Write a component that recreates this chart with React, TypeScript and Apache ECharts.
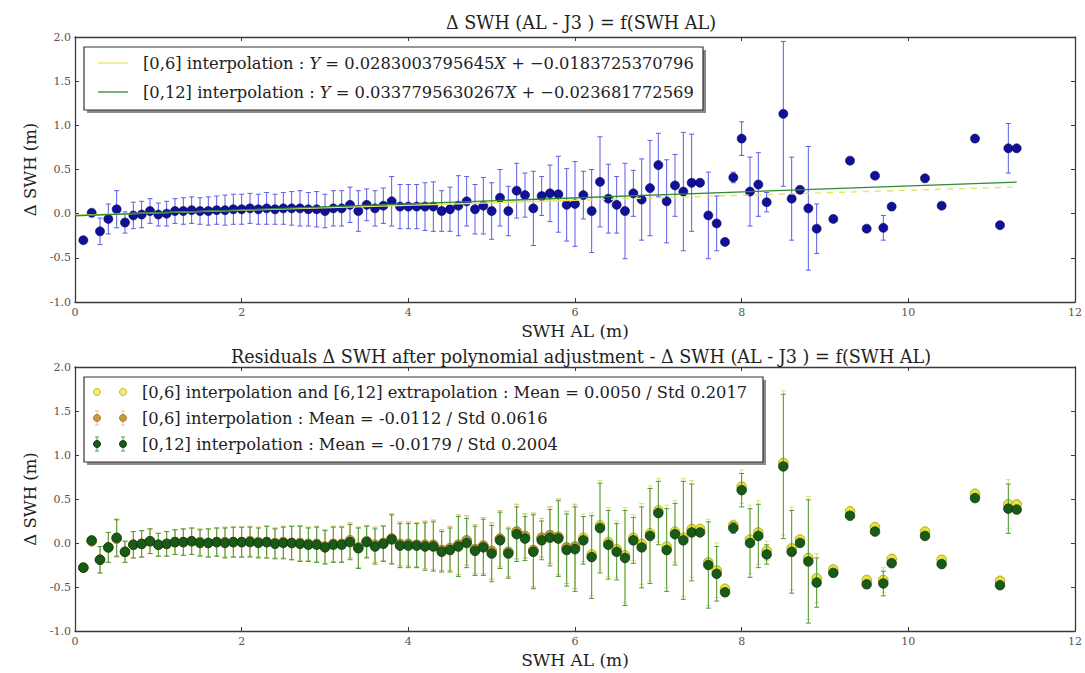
import React, { useEffect, useRef } from "react";
import * as echarts from "echarts";

// ---------- data ----------
const swhAL = [
  0.1, 0.2, 0.3, 0.4, 0.5, 0.6, 0.7, 0.8, 0.9, 1.0,
  1.1, 1.2, 1.3, 1.4, 1.5, 1.6, 1.7, 1.8, 1.9, 2.0,
  2.1, 2.2, 2.3, 2.4, 2.5, 2.6, 2.7, 2.8, 2.9, 3.0,
  3.1, 3.2, 3.3, 3.4, 3.5, 3.6, 3.7, 3.8, 3.9, 4.0,
  4.1, 4.2, 4.3, 4.4, 4.5, 4.6, 4.7, 4.8, 4.9, 5.0,
  5.1, 5.2, 5.3, 5.4, 5.5, 5.6, 5.7, 5.8, 5.9, 6.0,
  6.1, 6.2, 6.3, 6.4, 6.5, 6.6, 6.7, 6.8, 6.9, 7.0,
  7.1, 7.2, 7.3, 7.4, 7.5, 7.6, 7.7, 7.8, 7.9, 8.0,
  8.1, 8.2, 8.3, 8.5, 8.6, 8.7, 8.8, 8.9, 9.1, 9.3,
  9.5, 9.6, 9.7, 9.8, 10.2, 10.4, 10.8, 11.1, 11.2, 11.3,
];
const deltaSWH = [
  -0.30, 0.01, -0.20, -0.06, 0.05, -0.10, -0.02, -0.01, 0.03, -0.01,
  0.00, 0.03, 0.03, 0.04, 0.03, 0.03, 0.04, 0.04, 0.05, 0.05,
  0.06, 0.05, 0.06, 0.05, 0.06, 0.06, 0.06, 0.05, 0.05, 0.03,
  0.06, 0.06, 0.10, 0.03, 0.10, 0.06, 0.09, 0.14, 0.08, 0.08,
  0.08, 0.08, 0.08, 0.03, 0.05, 0.09, 0.14, 0.05, 0.09, 0.03,
  0.18, 0.03, 0.26, 0.21, 0.06, 0.20, 0.23, 0.22, 0.10, 0.11,
  0.21, 0.03, 0.36, 0.17, 0.10, 0.03, 0.23, 0.16, 0.29, 0.55,
  0.14, 0.32, 0.25, 0.35, 0.35, -0.02, -0.11, -0.32, 0.41, 0.85,
  0.25, 0.33, 0.13, 1.13, 0.17, 0.27, 0.06, -0.17, -0.06, 0.60,
  -0.17, 0.43, -0.16, 0.08, 0.40, 0.09, 0.85, -0.13, 0.74, 0.74,
];
const deltaStd = [
  0, 0, 0.15, 0.17, 0.21, 0.12, 0.15, 0.15, 0.14, 0.13,
  0.14, 0.14, 0.15, 0.15, 0.15, 0.16, 0.16, 0.17, 0.17, 0.17,
  0.17, 0.17, 0.18, 0.17, 0.18, 0.19, 0.20, 0.19, 0.20, 0.19,
  0.20, 0.20, 0.20, 0.23, 0.18, 0.20, 0.20, 0.28, 0.25, 0.25,
  0.25, 0.27, 0.28, 0.23, 0.25, 0.34, 0.28, 0.28, 0.32, 0.32,
  0.32, 0.28, 0.31, 0.25, 0.42, 0.22, 0.32, 0.43, 0.41, 0.48,
  0.27, 0.47, 0.51, 0.39, 0.32, 0.54, 0.26, 0.46, 0.54, 0.36,
  0.47, 0.35, 0.67, 0.55, 0, 0.49, 0.31, 0, 0.06, 0.19,
  0.39, 0.36, 0.11, 0.82, 0.47, 0, 0.70, 0.28, 0, 0,
  0, 0, 0.14, 0, 0, 0, 0, 0, 0.28, 0,
];
// residuals after the [0,12] fit
const residual012 = [
  -0.28, 0.03, -0.19, -0.05, 0.06, -0.10, -0.02, -0.01, 0.02, -0.02,
  -0.01, 0.01, 0.01, 0.02, 0.00, 0.00, 0.01, 0.00, 0.01, 0.01,
  0.01, 0.00, 0.01, -0.01, 0.00, 0.00, -0.01, -0.02, -0.02, -0.05,
  -0.02, -0.02, 0.01, -0.06, 0.01, -0.04, -0.01, 0.04, -0.03, -0.03,
  -0.03, -0.04, -0.04, -0.10, -0.08, -0.04, 0.00, -0.09, -0.05, -0.12,
  0.03, -0.12, 0.10, 0.05, -0.10, 0.03, 0.06, 0.05, -0.08, -0.07,
  0.03, -0.16, 0.17, -0.02, -0.10, -0.17, 0.03, -0.05, 0.08, 0.34,
  -0.08, 0.10, 0.03, 0.12, 0.12, -0.25, -0.35, -0.56, 0.17, 0.60,
  0.00, 0.08, -0.13, 0.87, -0.10, 0.00, -0.21, -0.45, -0.34, 0.31,
  -0.47, 0.13, -0.46, -0.23, 0.08, -0.24, 0.51, -0.48, 0.39, 0.38,
];
// residuals after the [0,6] fit (interpolation then extrapolation)
const residual06 = [
  -0.28, 0.02, -0.19, -0.05, 0.05, -0.10, -0.02, -0.01, 0.02, -0.02,
  -0.01, 0.01, 0.01, 0.02, 0.01, 0.00, 0.01, 0.01, 0.01, 0.01,
  0.02, 0.01, 0.01, 0.00, 0.01, 0.00, 0.00, -0.01, -0.01, -0.04,
  -0.01, -0.01, 0.03, -0.05, 0.02, -0.02, 0.00, 0.05, -0.01, -0.01,
  -0.02, -0.02, -0.02, -0.08, -0.06, -0.02, 0.03, -0.07, -0.03, -0.09,
  0.05, -0.10, 0.13, 0.08, -0.08, 0.06, 0.09, 0.07, -0.05, -0.04,
  0.06, -0.13, 0.20, 0.01, -0.07, -0.14, 0.06, -0.01, 0.11, 0.37,
  -0.04, 0.13, 0.06, 0.16, 0.16, -0.22, -0.31, -0.52, 0.20, 0.64,
  0.04, 0.12, -0.09, 0.91, -0.06, 0.04, -0.17, -0.40, -0.30, 0.36,
  -0.42, 0.18, -0.42, -0.18, 0.13, -0.19, 0.56, -0.43, 0.44, 0.44,
];
const fit012Line = [[0, -0.0237], [11.3, 0.358]];
const fit06Line = [[0, -0.0184], [6, 0.1514]];
const fit06Extra = [[6, 0.1514], [11.3, 0.3014]];

const topTitle = "\u0394 SWH (AL - J3 ) = f(SWH AL)";
const bottomTitle = "Residuals \u0394 SWH after polynomial adjustment - \u0394 SWH (AL - J3 ) = f(SWH AL)";
const xName = "SWH AL (m)";
const yName = "\u0394 SWH (m)";
const topLegend = [
  "[0,6] interpolation : {i|Y} = 0.0283003795645{i|X} + \u22120.0183725370796",
  "[0,12] interpolation : {i|Y} = 0.0337795630267{i|X} + \u22120.023681772569",
];
const bottomLegend = [
  "[0,6] interpolation and [6,12] extrapolation : Mean = 0.0050 / Std 0.2017",
  "[0,6] interpolation : Mean = -0.0112 / Std 0.0616",
  "[0,12] interpolation : Mean = -0.0179 / Std 0.2004",
];

const FONT = "DejaVu Serif";

const pts = (ys: number[]) => swhAL.map((x, i) => [x, ys[i]]);
const bars = (ys: number[], limit = 99) =>
  swhAL
    .map((x, i) => [x, ys[i] - deltaStd[i], ys[i] + deltaStd[i], deltaStd[i]])
    .filter((d) => d[3] > 0 && d[0] <= limit);

function errorBar(color: string) {
  return (params: any, api: any) => {
    const x = api.value(0);
    const a = api.coord([x, api.value(1)]);
    const b = api.coord([x, api.value(2)]);
    const cap = 2.5;
    const st = { stroke: color, lineWidth: 1 };
    return {
      type: "group",
      children: [
        { type: "line", shape: { x1: a[0], y1: a[1], x2: b[0], y2: b[1] }, style: st },
        { type: "line", shape: { x1: a[0] - cap, y1: a[1], x2: a[0] + cap, y2: a[1] }, style: st },
        { type: "line", shape: { x1: b[0] - cap, y1: b[1], x2: b[0] + cap, y2: b[1] }, style: st },
      ],
    };
  };
}

function axesFor(grid: number) {
  const line = { show: true, onZero: false, lineStyle: { color: "#3a3a3a", width: 1.3 } };
  const tick = { show: true, inside: true, length: 4, lineStyle: { color: "#3a3a3a" } };
  const lab = { fontFamily: FONT, fontSize: 11, color: "#555" };
  const xs = [
    {
      type: "value", gridIndex: grid, min: 0, max: 12, interval: 2, position: "bottom",
      axisLine: line, axisTick: tick, splitLine: { show: false },
      axisLabel: { ...lab, margin: 5 },
      name: xName, nameLocation: "middle", nameGap: 20,
      nameTextStyle: { fontFamily: FONT, fontSize: 17, color: "#222" },
    },
    {
      type: "value", gridIndex: grid, min: 0, max: 12, interval: 2, position: "top",
      axisLine: line, axisTick: tick, splitLine: { show: false }, axisLabel: { show: false },
    },
  ];
  const ys = [
    {
      type: "value", gridIndex: grid, min: -1, max: 2, interval: 0.5, position: "left",
      axisLine: line, axisTick: tick, splitLine: { show: false },
      axisLabel: { ...lab, margin: 4, formatter: (v: number) => v.toFixed(1) },
      name: yName, nameLocation: "middle", nameGap: 36, nameRotate: 90,
      nameTextStyle: { fontFamily: FONT, fontSize: 16.5, color: "#222" },
    },
    {
      type: "value", gridIndex: grid, min: -1, max: 2, interval: 0.5, position: "right",
      axisLine: line, axisTick: tick, splitLine: { show: false }, axisLabel: { show: false },
    },
  ];
  return { xs, ys };
}

function legendGraphics() {
  const g: any[] = [];
  const textStyle = (text: string, x: number, y: number) => ({
    type: "text",
    x, y,
    style: {
      text, fill: "#222", fontFamily: FONT, fontSize: 16.3, verticalAlign: "middle",
      rich: { i: { fontFamily: FONT, fontSize: 16.3, fontStyle: "italic", fill: "#222" } },
    },
  });
  // top legend
  g.push({ type: "rect", shape: { x: 87, y: 50, width: 619, height: 63 }, style: { fill: "#8a8a8a" } });
  g.push({ type: "rect", shape: { x: 84, y: 47, width: 619, height: 63 }, style: { fill: "#fff", stroke: "#333", lineWidth: 1.2 } });
  g.push({ type: "line", shape: { x1: 98, y1: 63, x2: 128, y2: 63 }, style: { stroke: "#e6e26a", lineWidth: 1.3 } });
  g.push({ type: "line", shape: { x1: 98, y1: 92, x2: 128, y2: 92 }, style: { stroke: "#2f8a2f", lineWidth: 1.3 } });
  g.push(textStyle(topLegend[0], 143, 63));
  g.push(textStyle(topLegend[1], 143, 92));
  // bottom legend
  g.push({ type: "rect", shape: { x: 87, y: 380, width: 679, height: 85 }, style: { fill: "#8a8a8a" } });
  g.push({ type: "rect", shape: { x: 84, y: 377, width: 679, height: 85 }, style: { fill: "#fff", stroke: "#333", lineWidth: 1.2 } });
  const rows = [
    { y: 392, fill: "#eeea7a", stroke: "#c8c020", bar: null as string | null },
    { y: 418, fill: "#c49a45", stroke: "#a88330", bar: "#f0c090" },
    { y: 444, fill: "#1a5a1a", stroke: "#0d3a0d", bar: "#4aa04a" },
  ];
  rows.forEach((r, k) => {
    [97, 123].forEach((cx) => {
      if (r.bar) {
        const st = { stroke: r.bar, lineWidth: 1 };
        g.push({ type: "line", shape: { x1: cx, y1: r.y - 7, x2: cx, y2: r.y + 7 }, style: st });
        g.push({ type: "line", shape: { x1: cx - 2, y1: r.y - 7, x2: cx + 2, y2: r.y - 7 }, style: st });
        g.push({ type: "line", shape: { x1: cx - 2, y1: r.y + 7, x2: cx + 2, y2: r.y + 7 }, style: st });
      }
      g.push({ type: "circle", shape: { cx, cy: r.y, r: 3.5 }, style: { fill: r.fill, stroke: r.stroke, lineWidth: 1 } });
    });
    g.push(textStyle(bottomLegend[k], 142, r.y));
  });
  return g;
}

export default function App() {
  const ref = useRef<HTMLDivElement>(null);
  useEffect(() => {
    if (!ref.current) return;
    const chart = echarts.init(ref.current, undefined, { renderer: "svg" });
    const a0 = axesFor(0);
    const a1 = axesFor(1);
    const titleStyle = { fontFamily: FONT, fontSize: 17.6, fontWeight: "normal", color: "#222" };
    const opt: any = {
      animation: false,
      backgroundColor: "#fff",
      title: [
        { text: topTitle, left: 576, top: 9, textAlign: "center", textStyle: titleStyle },
        { text: bottomTitle, left: 576, top: 343, textAlign: "center", textStyle: titleStyle },
      ],
      grid: [
        { left: 75, top: 37, width: 1002, height: 265 },
        { left: 75, top: 367, width: 1002, height: 264 },
      ],
      xAxis: [...a0.xs, ...a1.xs],
      yAxis: [...a0.ys, ...a1.ys],
      series: [
        // top chart
        {
          type: "custom", name: "std", xAxisIndex: 0, yAxisIndex: 0,
          renderItem: errorBar("#5c5ce8"), encode: { x: 0, y: [1, 2] },
          data: bars(deltaSWH), z: 2,
        },
        {
          type: "scatter", name: "\u0394 SWH", xAxisIndex: 0, yAxisIndex: 0,
          symbolSize: 9, data: pts(deltaSWH),
          itemStyle: { color: "#10109a", borderColor: "#050550", borderWidth: 0.6, opacity: 1 }, z: 3,
        },
        {
          type: "line", name: "[0,6] interpolation", xAxisIndex: 0, yAxisIndex: 0,
          data: fit06Line, showSymbol: false, lineStyle: { color: "#e6e26a", width: 1.4 }, z: 4,
        },
        {
          type: "line", name: "[0,6] extrapolation", xAxisIndex: 0, yAxisIndex: 0,
          data: fit06Extra, showSymbol: false, lineStyle: { color: "#e6e26a", width: 1.4, type: [6, 6] }, z: 4,
        },
        {
          type: "line", name: "[0,12] interpolation", xAxisIndex: 0, yAxisIndex: 0,
          data: fit012Line, showSymbol: false, lineStyle: { color: "#2f8a2f", width: 1.3 }, z: 5,
        },
        // bottom chart
        {
          type: "custom", name: "std 06e", xAxisIndex: 2, yAxisIndex: 2,
          renderItem: errorBar("#dede7a"), encode: { x: 0, y: [1, 2] },
          data: bars(residual06), z: 2,
        },
        {
          type: "scatter", name: "[0,6]+[6,12]", xAxisIndex: 2, yAxisIndex: 2, symbolSize: 9.5,
          data: pts(residual06), itemStyle: { color: "#e6e43a", borderColor: "#b0ac10", borderWidth: 1, opacity: 1 }, z: 3,
        },
        {
          type: "custom", name: "std 06", xAxisIndex: 2, yAxisIndex: 2,
          renderItem: errorBar("#e8c08a"), encode: { x: 0, y: [1, 2] },
          data: bars(residual06, 6), z: 4,
        },
        {
          type: "scatter", name: "[0,6]", xAxisIndex: 2, yAxisIndex: 2, symbolSize: 9.5,
          data: pts(residual06).filter((d) => d[0] <= 6), itemStyle: { color: "#c49a45", borderColor: "#a88330", borderWidth: 1, opacity: 1 }, z: 5,
        },
        {
          type: "custom", name: "std 012", xAxisIndex: 2, yAxisIndex: 2,
          renderItem: errorBar("#4e9a3c"), encode: { x: 0, y: [1, 2] },
          data: bars(residual012), z: 6,
        },
        {
          type: "scatter", name: "[0,12]", xAxisIndex: 2, yAxisIndex: 2, symbolSize: 9.5,
          data: pts(residual012), itemStyle: { color: "#185a18", borderColor: "#0b360b", borderWidth: 0.8, opacity: 1 }, z: 7,
        },
      ],
      graphic: legendGraphics(),
    };
    chart.setOption(opt);
    return () => chart.dispose();
  }, []);
  return <div ref={ref} style={{ position: "absolute", left: 0, top: 0, width: 1085, height: 673 }} />;
}
